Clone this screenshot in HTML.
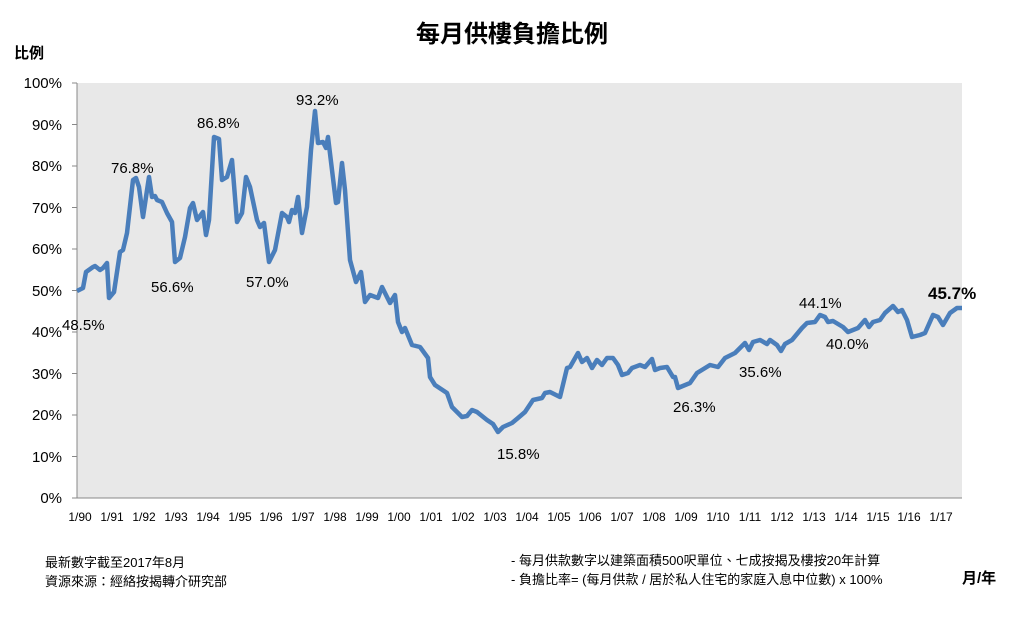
<!DOCTYPE html>
<html><head><meta charset="utf-8"><style>
body{margin:0;background:#fff;width:1024px;height:622px;overflow:hidden;font-family:"Liberation Sans","Noto Sans CJK TC",sans-serif;}
</style></head><body>
<svg width="1024" height="622" xmlns="http://www.w3.org/2000/svg" font-family="Liberation Sans, Noto Sans CJK TC, sans-serif">
<text x="512" y="42" text-anchor="middle" font-size="24" font-weight="bold" fill="#000">每月供樓負擔比例</text>
<text x="14" y="58" font-size="15" font-weight="bold" fill="#000">比例</text>
<rect x="77" y="83" width="885" height="415" fill="#e8e8e8"/>
<line x1="77" y1="83" x2="77" y2="498" stroke="#888" stroke-width="1"/>
<line x1="77" y1="498" x2="962" y2="498" stroke="#888" stroke-width="1"/>
<g stroke="#888" stroke-width="1">
<line x1="72" y1="83" x2="77" y2="83"/><line x1="72" y1="124.5" x2="77" y2="124.5"/><line x1="72" y1="166" x2="77" y2="166"/><line x1="72" y1="207.5" x2="77" y2="207.5"/><line x1="72" y1="249" x2="77" y2="249"/><line x1="72" y1="290.5" x2="77" y2="290.5"/><line x1="72" y1="332" x2="77" y2="332"/><line x1="72" y1="373.5" x2="77" y2="373.5"/><line x1="72" y1="415" x2="77" y2="415"/><line x1="72" y1="456.5" x2="77" y2="456.5"/><line x1="72" y1="498" x2="77" y2="498"/>
</g>
<g font-size="15" fill="#000" text-anchor="end">
<text x="62" y="88">100%</text><text x="62" y="130">90%</text><text x="62" y="171">80%</text><text x="62" y="213">70%</text><text x="62" y="254">60%</text><text x="62" y="296">50%</text><text x="62" y="337">40%</text><text x="62" y="379">30%</text><text x="62" y="420">20%</text><text x="62" y="462">10%</text><text x="62" y="503">0%</text>
</g>
<g font-size="12" fill="#000" text-anchor="middle">
<text x="80" y="521">1/90</text><text x="112" y="521">1/91</text><text x="144" y="521">1/92</text><text x="176" y="521">1/93</text><text x="208" y="521">1/94</text><text x="240" y="521">1/95</text><text x="271" y="521">1/96</text><text x="303" y="521">1/97</text><text x="335" y="521">1/98</text><text x="367" y="521">1/99</text><text x="399" y="521">1/00</text><text x="431" y="521">1/01</text><text x="463" y="521">1/02</text><text x="495" y="521">1/03</text><text x="527" y="521">1/04</text><text x="559" y="521">1/05</text><text x="590" y="521">1/06</text><text x="622" y="521">1/07</text><text x="654" y="521">1/08</text><text x="686" y="521">1/09</text><text x="718" y="521">1/10</text><text x="750" y="521">1/11</text><text x="782" y="521">1/12</text><text x="814" y="521">1/13</text><text x="846" y="521">1/14</text><text x="878" y="521">1/15</text><text x="909" y="521">1/16</text><text x="941" y="521">1/17</text>
</g>
<polyline fill="none" stroke="#4a7ebb" stroke-width="4.5" stroke-linejoin="round" points="77,291 83,288 86,272 93,267 95,266 100,270 103,268 107,263 109,298 114,292 120,252 123,250 127,233 133,180 136,178 139,187 143,217 149,177 152,197 155,196 157,200 162,202 167,213 172,222 175,262 180,258 185,237 190,208 193,203 197,220 203,212 206,235 209,220 214,137 219,139 222,180 227,177 232,160 237,222 242,213 246,177 250,187 257,220 260,227 264,223 269,262 275,250 282,213 287,217 289,222 292,210 295,213 298,197 302,233 307,207 311,150 315,111 318,143 323,142 326,148 328,137 336,203 338,202 342,163 345,190 350,260 356,282 361,272 365,302 370,295 378,298 382,287 390,303 395,295 398,322 402,332 405,328 412,345 420,347 428,358 430,377 435,385 447,393 452,407 457,412 462,417 467,416 472,410 477,412 487,420 493,424 498,432 503,427 512,423 518,418 525,412 533,400 542,398 545,393 550,392 560,397 567,368 570,367 578,353 582,362 587,358 592,368 597,360 602,365 607,358 613,358 618,365 622,375 628,373 632,368 640,365 645,367 652,359 655,370 660,368 667,367 673,377 675,377 678,388 690,383 697,373 710,365 718,367 725,358 735,353 745,343 749,350 753,342 760,340 767,344 770,340 777,345 781,351 785,344 792,340 802,328 807,323 815,322 820,315 825,317 828,322 833,321 843,327 848,332 858,328 865,320 869,327 873,322 880,320 885,313 893,306 898,312 902,310 907,320 912,337 920,335 925,333 933,315 938,317 943,325 950,313 957,308 962,308"/>
<g font-size="15" fill="#000">
<text x="62" y="330">48.5%</text><text x="111" y="173">76.8%</text><text x="151" y="292">56.6%</text><text x="197" y="128">86.8%</text><text x="246" y="287">57.0%</text><text x="296" y="105">93.2%</text><text x="497" y="459">15.8%</text><text x="673" y="412">26.3%</text><text x="739" y="377">35.6%</text><text x="799" y="308">44.1%</text><text x="826" y="349">40.0%</text>
<text x="928" y="299" font-size="17" font-weight="bold">45.7%</text>
</g>
<g font-size="13" fill="#000">
<text x="45" y="567">最新數字截至2017年8月</text>
<text x="45" y="586">資源來源：經絡按揭轉介研究部</text>
<text x="511" y="565">- 每月供款數字以建築面積500呎單位、七成按揭及樓按20年計算</text>
<text x="511" y="584">- 負擔比率= (每月供款  / 居於私人住宅的家庭入息中位數) x 100%</text>
</g>
<text x="962" y="583" font-size="15" font-weight="bold" fill="#000">月/年</text>
</svg>
</body></html>
